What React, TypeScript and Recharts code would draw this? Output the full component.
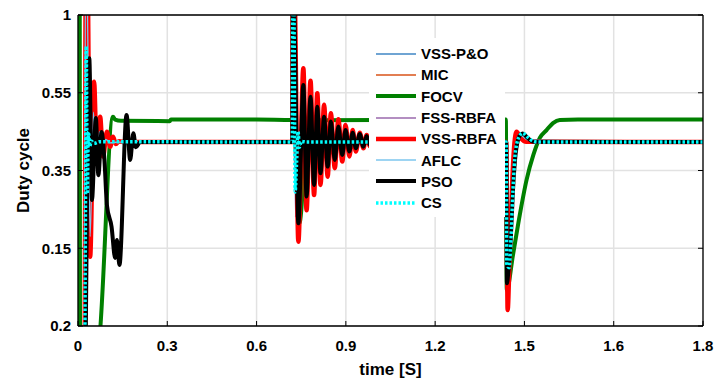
import React from 'react';
import { LineChart, Line, XAxis, YAxis, CartesianGrid, Legend } from 'recharts';

type Pt = [number, number];

// axis ticks (positions are evenly spaced, labels are the ones printed on the figure)
const xTicks = [0, 0.25, 0.5, 0.75, 1, 1.25, 1.5, 1.75];
const xTickLabels = ['0', '0.3', '0.6', '0.9', '1.2', '1.5', '1.6', '1.8'];
const yTicks = [0.2, 0.4, 0.6, 0.8, 1];
const yTickLabels = ['0.2', '0.15', '0.35', '0.55', '1'];

// [time, duty] pairs
const vssPO: Pt[] = [
  [0, 0], [0.018, 0], [0.021, 1.15], [0.025, 1.05], [0.03, 0.55], [0.036, 0.73], [0.044, 0.64],
  [0.053, 0.69], [0.065, 0.67], [0.09, 0.673], [0.6, 0.673], [0.601, 1.15], [0.605, 1.0],
  [0.61, 0.52], [0.617, 0.7], [0.625, 0.66], [0.64, 0.673], [1.199, 0.673], [1.201, 0.34],
  [1.209, 0.4], [1.22, 0.6], [1.235, 0.69], [1.25, 0.68], [1.27, 0.673], [1.75, 0.673],
];
const mic: Pt[] = [
  [0, 0], [0.019, 0], [0.022, 1.1], [0.026, 1.05], [0.032, 0.5], [0.04, 0.72], [0.05, 0.65],
  [0.06, 0.68], [0.08, 0.673], [0.6, 0.673], [0.601, 1.1], [0.606, 0.6], [0.615, 0.7],
  [0.625, 0.67], [0.64, 0.673], [1.199, 0.673], [1.201, 0.34], [1.21, 0.42], [1.225, 0.64],
  [1.24, 0.69], [1.26, 0.676], [1.75, 0.673],
];
const focv: Pt[] = [
  [0, 0], [0.0045, 1.2], [0.006, 0], [0.058, 0.15], [0.098, 0.738], [0.104, 0.731], [0.12, 0.728],
  [0.257, 0.727], [0.26, 0.731], [0.5, 0.731], [0.6, 0.73], [0.604, 0.73], [0.62, 0.465],
  [0.635, 0.62], [0.65, 0.72], [0.66, 0.729], [1.198, 0.731], [1.2005, 0.293], [1.218, 0.383],
  [1.237, 0.486], [1.256, 0.576], [1.275, 0.64], [1.293, 0.684], [1.312, 0.704], [1.33, 0.722],
  [1.349, 0.73], [1.4, 0.731], [1.75, 0.731],
];
const fssRbfa: Pt[] = [
  [0, 0], [0.019, 0], [0.022, 1.1], [0.027, 1.0], [0.031, 0.55], [0.038, 0.74], [0.046, 0.64],
  [0.056, 0.69], [0.07, 0.67], [0.09, 0.673], [0.6, 0.673], [0.601, 1.1], [0.605, 0.9],
  [0.609, 0.48], [0.615, 0.68], [0.63, 0.673], [1.199, 0.673], [1.201, 0.35], [1.21, 0.42],
  [1.222, 0.62], [1.238, 0.69], [1.26, 0.678], [1.75, 0.673],
];
const vssRbfa: Pt[] = [
  [0, 0], [0.018, 0], [0.022, 1.15], [0.027, 1.1], [0.034, 0.378], [0.045, 0.828], [0.053, 0.619],
  [0.062, 0.738], [0.07, 0.636], [0.081, 0.7], [0.09, 0.661], [0.098, 0.687], [0.106, 0.668],
  [0.115, 0.675], [0.13, 0.673], [0.6, 0.673], [0.601, 1.15], [0.606, 1.1], [0.617, 0.417],
  [0.631, 0.863], [0.64, 0.498], [0.651, 0.831], [0.661, 0.537], [0.67, 0.799], [0.679, 0.563],
  [0.689, 0.769], [0.699, 0.584], [0.708, 0.747], [0.719, 0.606], [0.729, 0.732], [0.74, 0.623],
  [0.749, 0.717], [0.76, 0.636], [0.769, 0.704], [0.778, 0.649], [0.789, 0.697], [0.799, 0.657],
  [0.808, 0.691], [0.818, 0.662], [0.828, 0.686], [0.9, 0.673], [1.199, 0.673], [1.203, 0.241],
  [1.208, 0.36], [1.215, 0.55], [1.222, 0.67], [1.228, 0.7], [1.24, 0.683], [1.255, 0.674],
  [1.75, 0.673],
];
const aflc: Pt[] = [
  [0, 0], [0.018, 0], [0.021, 1.15], [0.025, 1.1], [0.034, 0.43], [0.043, 0.75], [0.051, 0.63],
  [0.06, 0.7], [0.068, 0.655], [0.078, 0.68], [0.09, 0.671], [0.11, 0.673], [0.6, 0.673],
  [0.6005, 1.1], [0.603, 1.0], [0.607, 0.56], [0.612, 0.69], [0.62, 0.67], [0.63, 0.673],
  [1.199, 0.673], [1.2005, 0.36], [1.207, 0.36], [1.215, 0.5], [1.225, 0.65], [1.24, 0.69],
  [1.26, 0.678], [1.75, 0.673],
];
const pso: Pt[] = [
  [0, 0], [0.021, 0.1], [0.027, 0.75], [0.0316, 0.889], [0.039, 0.524], [0.05, 0.735],
  [0.057, 0.588], [0.066, 0.699], [0.074, 0.627], [0.081, 0.511], [0.094, 0.455], [0.104, 0.375],
  [0.109, 0.421], [0.116, 0.357], [0.136, 0.743], [0.146, 0.627], [0.155, 0.696], [0.162, 0.66],
  [0.174, 0.673], [0.6, 0.673], [0.6015, 1.1], [0.606, 1.0], [0.617, 0.464], [0.631, 0.82],
  [0.64, 0.533], [0.651, 0.79], [0.661, 0.563], [0.67, 0.764], [0.679, 0.593], [0.689, 0.738],
  [0.699, 0.61], [0.708, 0.726], [0.719, 0.627], [0.729, 0.713], [0.74, 0.64], [0.749, 0.704],
  [0.76, 0.649], [0.769, 0.697], [0.778, 0.657], [0.789, 0.694], [0.799, 0.661], [0.808, 0.689],
  [0.818, 0.665], [0.828, 0.684], [0.9, 0.673], [1.199, 0.673], [1.201, 0.31], [1.205, 0.34],
  [1.212, 0.43], [1.218, 0.55], [1.225, 0.64], [1.237, 0.69], [1.245, 0.695], [1.26, 0.683],
  [1.275, 0.674], [1.75, 0.673],
];
const cs: Pt[] = [
  [0, 0], [0.018, 0], [0.02, 0.3], [0.023, 0.92], [0.026, 0.54], [0.029, 0.7], [0.033, 0.662],
  [0.037, 0.676], [0.045, 0.67], [0.06, 0.674], [0.6, 0.673], [0.6015, 1.15], [0.604, 1.1],
  [0.608, 0.545], [0.612, 0.62], [0.616, 0.7], [0.62, 0.66], [0.625, 0.675], [0.64, 0.673],
  [1.199, 0.673], [1.2005, 0.36], [1.207, 0.35], [1.212, 0.42], [1.218, 0.55], [1.225, 0.65],
  [1.237, 0.69], [1.245, 0.696], [1.26, 0.685], [1.275, 0.675], [1.29, 0.673], [1.75, 0.673],
];

const series = [
  { name: 'VSS-P&O', pts: vssPO, color: '#3f86c4', width: 1.3, dash: undefined },
  { name: 'MIC', pts: mic, color: '#d95319', width: 1.3, dash: undefined },
  { name: 'FOCV', pts: focv, color: '#008000', width: 4, dash: undefined },
  { name: 'FSS-RBFA', pts: fssRbfa, color: '#9a68ad', width: 1.3, dash: undefined },
  { name: 'VSS-RBFA', pts: vssRbfa, color: '#ff0000', width: 4.5, dash: undefined },
  { name: 'AFLC', pts: aflc, color: '#7cc6ee', width: 1.3, dash: undefined },
  { name: 'PSO', pts: pso, color: '#000000', width: 4, dash: undefined },
  { name: 'CS', pts: cs, color: '#00ffff', width: 3.5, dash: '2.5 2' },
];

const FONT = '"Liberation Sans", Arial, sans-serif';
const tickStyle = { fill: '#000', fontSize: 15, fontWeight: 700, fontFamily: FONT };
const labelStyle = { fill: '#000', fontSize: 17, fontWeight: 700, fontFamily: FONT, textAnchor: 'middle' as const };

const renderLegend = () => (
  <div style={{ background: '#fff', padding: '5px 0 4px 7px', width: 129 }}>
    {series.map((s) => (
      <div key={s.name} style={{ display: 'flex', alignItems: 'center', height: 21.3 }}>
        <svg width={40} height={8} style={{ display: 'block' }}>
          <line x1={0} x2={40} y1={4} y2={4} stroke={s.color} strokeWidth={s.width < 2 ? 1.5 : s.width} strokeDasharray={s.dash} />
        </svg>
        <span style={{ marginLeft: 5, font: `bold 15px ${FONT}`, color: '#000', lineHeight: '15px' }}>{s.name}</span>
      </div>
    ))}
  </div>
);

export default function App() {
  return (
    <div style={{ position: 'absolute', left: 0, top: 0, width: 715, height: 380, background: '#fff' }}>
      <LineChart width={715} height={380} margin={{ top: 14, right: 11, bottom: 0, left: 18 }}>
        <CartesianGrid stroke="#e2e2e2" strokeWidth={1.5} />
        <XAxis
          dataKey="t"
          type="number"
          domain={[0, 1.75]}
          allowDataOverflow
          ticks={xTicks}
          tickFormatter={(v: number) => xTickLabels[xTicks.indexOf(v)] ?? ''}
          height={54}
          tickSize={-5}
          tickMargin={19}
          tick={tickStyle}
          tickLine={{ stroke: '#000' }}
          axisLine={{ stroke: '#000', strokeWidth: 1.3 }}
          label={{ value: 'time [S]', position: 'insideBottom', offset: 5, style: labelStyle }}
        />
        <XAxis
          xAxisId="top"
          orientation="top"
          type="number"
          domain={[0, 1.75]}
          allowDataOverflow
          ticks={xTicks}
          height={1}
          tickSize={-5}
          tick={() => <g />}
          tickLine={{ stroke: '#000' }}
          axisLine={{ stroke: '#000', strokeWidth: 1.3 }}
        />
        <YAxis
          type="number"
          domain={[0.2, 1]}
          allowDataOverflow
          ticks={yTicks}
          tickFormatter={(v: number) => yTickLabels[yTicks.indexOf(v)] ?? ''}
          width={60}
          tickSize={-5}
          tickMargin={12}
          tick={tickStyle}
          tickLine={{ stroke: '#000' }}
          axisLine={{ stroke: '#000', strokeWidth: 1.3 }}
          label={{ value: 'Duty cycle', angle: -90, position: 'insideLeft', offset: 5.3, style: labelStyle }}
        />
        <YAxis
          yAxisId="right"
          orientation="right"
          type="number"
          domain={[0.2, 1]}
          allowDataOverflow
          ticks={yTicks}
          width={1}
          tickSize={-5}
          tick={() => <g />}
          tickLine={{ stroke: '#000' }}
          axisLine={{ stroke: '#000', strokeWidth: 1.3 }}
        />
        {series.map((s) => (
          <Line
            key={s.name}
            name={s.name}
            data={s.pts.map(([t, v]) => ({ t, v }))}
            dataKey="v"
            type="monotone"
            stroke={s.color}
            strokeWidth={s.width}
            strokeDasharray={s.dash}
            dot={false}
            activeDot={false}
            isAnimationActive={false}
          />
        ))}
        <Legend
          layout="vertical"
          align="center"
          verticalAlign="middle"
          content={renderLegend}
          wrapperStyle={{ left: 369, top: 38, width: 136, height: 177 }}
        />
      </LineChart>
    </div>
  );
}
